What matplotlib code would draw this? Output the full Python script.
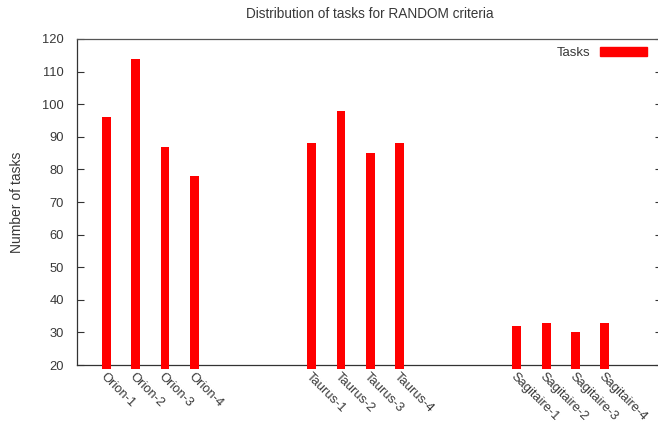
import matplotlib
matplotlib.use("Agg")
import matplotlib.pyplot as plt
from matplotlib.patches import Patch

# data
machines = ["Orion-1", "Orion-2", "Orion-3", "Orion-4",
            "Taurus-1", "Taurus-2", "Taurus-3", "Taurus-4",
            "Sagitaire-1", "Sagitaire-2", "Sagitaire-3", "Sagitaire-4"]
positions = [0, 1, 2, 3, 7, 8, 9, 10, 14, 15, 16, 17]
tasks = [96, 114, 87, 78, 88, 98, 85, 88, 32, 33, 30, 33]
yticks = [20, 30, 40, 50, 60, 70, 80, 90, 100, 110, 120]

plt.rcParams["font.family"] = ["Liberation Sans", "DejaVu Sans"]
plt.rcParams["font.size"] = 9
txt = "#383838"

fig = plt.figure(figsize=(6.58, 4.23), dpi=100)
ax = fig.add_axes([77 / 658, 1 - 365 / 423, (662 - 77) / 658, (365 - 39) / 423])

ax.bar(positions, [t - 18.8 for t in tasks], bottom=18.8, width=0.3,
       color="#ff0000", clip_on=False, zorder=3)

ax.set_xlim(-1, 18.95)
ax.set_ylim(20, 120)
ax.set_yticks(yticks)
ax.set_xticks(positions)
ax.set_xticklabels(machines, rotation=-45, ha="left", va="top",
                   rotation_mode="anchor", color=txt, fontsize=9.3)
ax.tick_params(axis="x", length=0, pad=4)
ax.tick_params(axis="y", direction="in", length=5, width=0.8, color="#333333",
               labelcolor=txt, right=True, pad=9.5, labelsize=9.3)

for s in ax.spines.values():
    s.set_color("#333333")
    s.set_linewidth(0.9)
ax.spines["top"].set_color("#555555")

ax.set_title("Distribution of tasks for RANDOM criteria", color=txt, pad=15,
             fontsize=9.8)
ax.set_ylabel("Number of tasks", color=txt, labelpad=13, fontsize=10)

ax.legend(handles=[Patch(color="#ff0000", label="Tasks")], loc="upper right",
          frameon=False, markerfirst=False, handlelength=3.6, handleheight=0.65,
          handletextpad=0.7, borderaxespad=0.2, labelcolor=txt, fontsize=9.5,
          bbox_to_anchor=(0.988, 1.0))

fig.savefig("out.png", dpi=100)
